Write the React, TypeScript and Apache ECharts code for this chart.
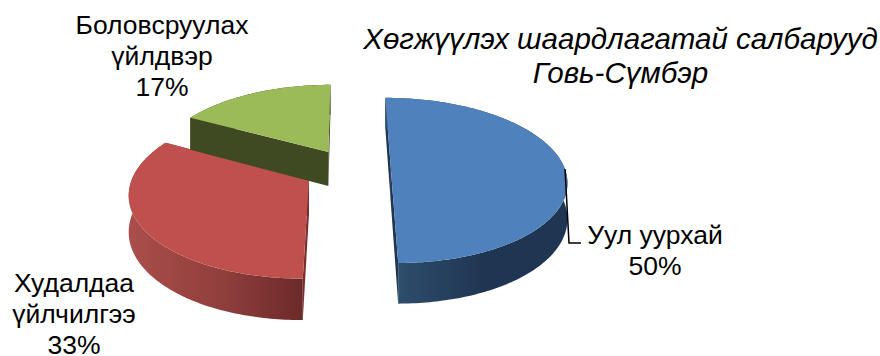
import React, { useEffect, useRef } from "react";
import * as echarts from "echarts";

const categories = ["Уул уурхай", "Худалдаа\nүйлчилгээ", "Боловсруулах\nүйлдвэр"];
const values = [50, 33, 17];
const titleLines = ["Хөгжүүлэх шаардлагатай салбарууд", "Говь-Сүмбэр"];
const topColors = ["#4f81bd", "#c0504d", "#9bbb59"];
const cutColors = ["#1f3552", "#7a2f2d", "#3f4a22"];
const wallStops: [string, string, string][] = [
  ["#30506f", "#1f3552", "#1f3552"],
  ["#aa4e4b", "#8f3e3c", "#6b2a29"],
  ["#3f4a22", "#3f4a22", "#3f4a22"],
];
const explode = [0.235, 0.27, 0.25];
const labelAnchors: [number, number][] = [[655, 250], [74, 314], [162, 56]];

const CX = 350, CY = 169, RX = 174, RY = 81, K = 0.139, DROP = 35, START = -0.2;
const total = values.reduce((a, b) => a + b, 0);
const rad = (d: number) => (d * Math.PI) / 180;

function project(u: number, v: number, low: boolean): [number, number] {
  const w = 1 + K * v;
  return [CX + (RX * u) / w, CY - (RY * v) / w + (low ? DROP / w : 0)];
}

function renderSlice(params: any, api: any) {
  const i = params.dataIndex;
  const before = values.slice(0, i).reduce((a, b) => a + b, 0);
  const t0 = START + (before / total) * 360;
  const t1 = t0 + (api.value(0) / total) * 360;
  const mid = rad((t0 + t1) / 2);
  const ou = explode[i] * Math.sin(mid), ov = explode[i] * Math.cos(mid);
  const rim = (low: boolean) => {
    const pts: [number, number][] = [];
    for (let t = t0; t < t1; t += 1) pts.push(project(ou + Math.sin(rad(t)), ov + Math.cos(rad(t)), low));
    pts.push(project(ou + Math.sin(rad(t1)), ov + Math.cos(rad(t1)), low));
    return pts;
  };
  const apexTop = project(ou, ov, false), apexLow = project(ou, ov, true);
  const top = rim(false), low = rim(true);
  const poly = (points: [number, number][], fill: any) => ({
    type: "polygon",
    shape: { points },
    style: { fill, stroke: null },
  });
  const [a, b, c] = wallStops[i];
  const gradient = new echarts.graphic.LinearGradient(0, 0, 1, 0, [
    { offset: 0, color: a },
    { offset: 0.55, color: b },
    { offset: 1, color: c },
  ]);
  return {
    type: "group",
    children: [
      poly([apexTop, top[0], low[0], apexLow], cutColors[i]),
      poly([apexTop, top[top.length - 1], low[low.length - 1], apexLow], cutColors[i]),
      poly([...top, ...low.slice().reverse()], gradient),
      poly([apexTop, ...top], topColors[i]),
    ],
  };
}

export default function App() {
  const ref = useRef<HTMLDivElement>(null);
  useEffect(() => {
    const chart = echarts.init(ref.current!, null, { renderer: "svg" });
    const font = "'Liberation Sans', Arial, sans-serif";
    chart.setOption({
      animation: false,
      backgroundColor: "#ffffff",
      title: {
        text: titleLines.join("\n"),
        left: 615.5,
        top: 16,
        textAlign: "center",
        textStyle: { fontFamily: font, fontStyle: "italic", fontWeight: "normal", fontSize: 29.5, lineHeight: 34, color: "#000" },
      },
      series: [
        {
          type: "custom",
          coordinateSystem: "none",
          renderItem: renderSlice,
          data: values.map((v) => [v]),
          silent: true,
        },
      ],
      graphic: [
        ...categories.map((name, i) => ({
          type: "text",
          x: labelAnchors[i][0],
          y: labelAnchors[i][1],
          style: {
            text: `${name}\n${values[i]}%`,
            fontFamily: font,
            fontSize: 26.5,
            lineHeight: 31,
            fill: "#000",
            textAlign: "center",
            textVerticalAlign: "middle",
          },
        })),
        {
          type: "polyline",
          z: 10,
          shape: { points: [[565, 169], [569, 243], [581, 243]] },
          style: { stroke: "#000", lineWidth: 1.5, fill: null },
        },
      ],
    });
    return () => chart.dispose();
  }, []);
  return <div ref={ref} style={{ position: "absolute", left: 0, top: 0, width: 880, height: 356 }} />;
}
